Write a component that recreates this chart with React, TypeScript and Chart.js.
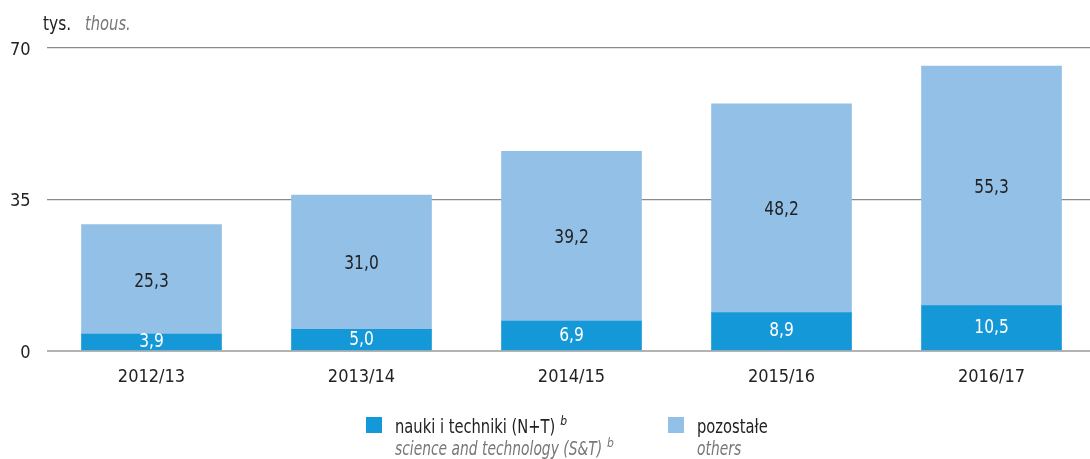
import React, { useEffect, useRef } from "react";
import { Chart, registerables } from "chart.js";

Chart.register(...registerables);

const categories = ["2012/13", "2013/14", "2014/15", "2015/16", "2016/17"];
const scienceValues = [3.9, 5.0, 6.9, 8.9, 10.5];
const otherValues = [25.3, 31.0, 39.2, 48.2, 55.3];
const yTicks = [0, 35, 70];

const FONT = '"DejaVu Sans Condensed", "Liberation Sans", sans-serif';
const DARK = "#1598d7";
const LIGHT = "#93c0e7";

const fmt = (v: number) => v.toFixed(1).replace(".", ",");

function squeezedText(ctx: CanvasRenderingContext2D, text: string, x: number, y: number, sx = 0.86) {
  ctx.save();
  ctx.translate(x, y);
  ctx.scale(sx, 1);
  ctx.fillText(text, 0, 0);
  ctx.restore();
  return ctx.measureText(text).width * sx;
}

const overlayPlugin = {
  id: "overlay",
  afterDatasetsDraw(chart: any) {
    const ctx = chart.ctx as CanvasRenderingContext2D;
    ctx.save();
    ctx.textAlign = "center";
    ctx.textBaseline = "middle";
    ctx.font = `20px ${FONT}`;
    chart.data.datasets.forEach((ds: any, di: number) => {
      const meta = chart.getDatasetMeta(di);
      meta.data.forEach((el: any, i: number) => {
        const v = ds.data[i].y;
        const cy = (el.y + el.base) / 2 + (di === 0 ? 0 : 2);
        ctx.fillStyle = di === 0 ? "#ffffff" : "#222222";
        squeezedText(ctx, fmt(v), el.x, cy);
      });
    });
    ctx.restore();
  },
  afterDraw(chart: any) {
    const ctx = chart.ctx as CanvasRenderingContext2D;
    ctx.save();
    ctx.textAlign = "left";
    ctx.textBaseline = "alphabetic";
    // unit title
    ctx.font = `20px ${FONT}`;
    ctx.fillStyle = "#222222";
    squeezedText(ctx, "tys.", 43, 30);
    ctx.font = `italic 19px ${FONT}`;
    ctx.fillStyle = "#777777";
    squeezedText(ctx, "thous.", 85, 30);

    // legend
    const items = [
      { color: DARK, x: 366, pl: "nauki i techniki (N+T)", en: "science and technology (S&T)", sup: true },
      { color: LIGHT, x: 668, pl: "pozostałe", en: "others", sup: false },
    ];
    items.forEach((it) => {
      ctx.fillStyle = it.color;
      ctx.fillRect(it.x, 417, 16, 16);
      const tx = it.x + 29;
      ctx.font = `19px ${FONT}`;
      ctx.fillStyle = "#222222";
      const w1 = squeezedText(ctx, it.pl, tx, 433);
      ctx.font = `italic 19px ${FONT}`;
      ctx.fillStyle = "#777777";
      const w2 = squeezedText(ctx, it.en, tx, 455, 0.81);
      if (it.sup) {
        ctx.font = `italic 12px ${FONT}`;
        ctx.fillStyle = "#222222";
        ctx.fillText("b", tx + w1 + 5, 425);
        ctx.fillStyle = "#777777";
        ctx.fillText("b", tx + w2 + 5, 447);
      }
    });
    ctx.restore();
  },
};

export default function App() {
  const ref = useRef<HTMLCanvasElement | null>(null);

  useEffect(() => {
    document.body.style.margin = "0";
    document.body.style.overflow = "hidden";
    const canvas = ref.current;
    if (!canvas) return;
    const chart = new Chart(canvas, {
      type: "bar",
      data: {
        datasets: [
          {
            label: "nauki i techniki (N+T)",
            data: scienceValues.map((v, i) => ({ x: i, y: v })),
            backgroundColor: DARK,
            barThickness: 140,
          },
          {
            label: "pozostałe",
            data: otherValues.map((v, i) => ({ x: i, y: v })),
            backgroundColor: LIGHT,
            barThickness: 140,
          },
        ],
      },
      options: {
        responsive: false,
        animation: false,
        layout: { padding: { top: 48, left: 0, right: 0, bottom: 0 } },
        plugins: {
          legend: { display: false },
          tooltip: { enabled: false },
        },
        scales: {
          x: {
            type: "linear",
            stacked: true,
            offset: false,
            min: -0.5,
            max: 4.469,
            grid: { display: false, offset: false },
            border: { display: false },
            afterBuildTicks: (scale: any) => {
              scale.ticks = categories.map((_, i) => ({ value: i }));
            },
            afterFit: (scale: any) => {
              scale.height = 108;
            },
            ticks: {
              autoSkip: false,
              maxRotation: 0,
              padding: 8,
              color: "#222222",
              font: { family: FONT, size: 18 },
              callback: (v: any) => categories[Math.round(Number(v))] ?? "",
            },
          },
          y: {
            stacked: true,
            min: 0,
            max: 70,
            afterBuildTicks: (scale: any) => {
              scale.ticks = yTicks.map((v) => ({ value: v }));
            },
            afterFit: (scale: any) => {
              scale.width = 46.5;
            },
            border: { display: false },
            grid: {
              drawTicks: false,
              color: (c: any) => (c.tick && c.tick.value === 0 ? "#b3b3b3" : "#8a8a8a"),
              lineWidth: (c: any) => (c.tick && c.tick.value === 0 ? 2 : 1.3),
            },
            ticks: {
              padding: 16,
              labelOffset: 2,
              color: "#222222",
              font: { family: FONT, size: 18 },
            },
          },
        },
      },
      plugins: [overlayPlugin],
    });
    return () => chart.destroy();
  }, []);

  return (
    <div style={{ width: 1090, height: 459 }}>
      <canvas ref={ref} width={1090} height={459} style={{ display: "block" }} />
    </div>
  );
}
